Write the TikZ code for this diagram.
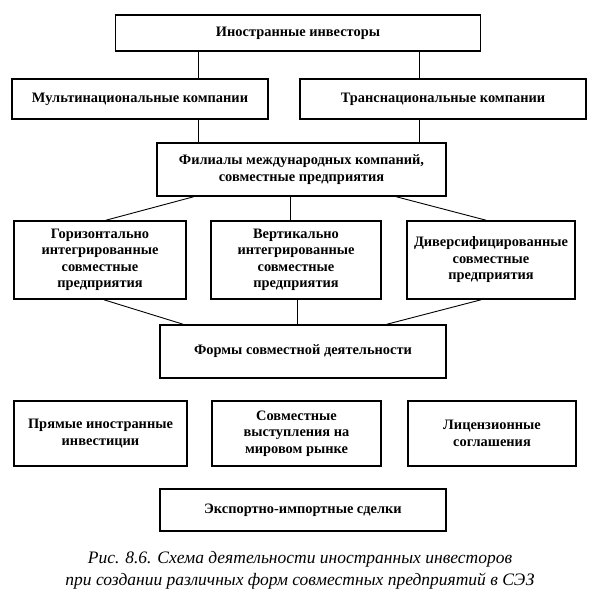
\documentclass[tikz,border=0pt]{standalone}
\usepackage{fontspec}
\setmainfont{Liberation Serif}
\tikzset{
  box/.style={draw, line width=1.6pt, align=center, inner sep=2pt,
    font=\fontsize{14.4}{16.5}\selectfont\bfseries},
  link/.style={line width=0.9pt}
}
\begin{document}
\begin{tikzpicture}[x=1pt,y=-1pt]
      \useasboundingbox (0,0) rectangle (598,600);
      \node[box, minimum width=365, minimum height=36] (inv) at (298,33) {Иностранные инвесторы};
      \node[box, minimum width=256, minimum height=40] (mult) at (140,99) {Мультинациональные компании};
      \node[box, minimum width=286, minimum height=40] (trans) at (443,99) {Транснациональные компании};
      \node[box, minimum width=289, minimum height=53] (fil) at (301.5,169.5) {Филиалы международных компаний,\\совместные предприятия};
      \node[box, minimum width=172, minimum height=78] (hor) at (100,260) {Горизонтально\\интегрированные\\совместные\\предприятия};
      \node[box, minimum width=170, minimum height=78] (ver) at (296,260) {Вертикально\\интегрированные\\совместные\\предприятия};
      \node[box, minimum width=168, minimum height=78] (div) at (491,260) {Диверсифицированные\\совместные\\предприятия};
      \node[box, minimum width=286, minimum height=53] (form) at (303,351.5) {Формы совместной деятельности};
      \node[box, minimum width=173, minimum height=65] (dir) at (100.5,433.5) {Прямые иностранные\\инвестиции};
      \node[box, minimum width=169, minimum height=65] (joint) at (296.5,433.5) {Совместные\\выступления на\\мировом рынке};
      \node[box, minimum width=168, minimum height=65] (lic) at (492,433.5) {Лицензионные\\соглашения};
      \node[box, minimum width=286, minimum height=42] (exp) at (303,510) {Экспортно-импортные сделки};
      \node[align=center, font=\fontsize{17.5}{22}\selectfont\itshape] (cap) at (300,570)
        {Рис. 8.6. Схема деятельности иностранных инвесторов\\при создании различных форм совместных предприятий в СЭЗ};
      \begin{scope}[link]
        \draw ([xshift=-100]inv.south) to ([xshift=-100]inv.south |- mult.north);
        \draw ([xshift=121]inv.south) to ([xshift=121]inv.south |- trans.north);
        \draw ([xshift=58]mult.south) to ([xshift=58]mult.south |- fil.north);
        \draw ([xshift=-24]trans.south) to ([xshift=-24]trans.south |- fil.north);
        \draw ([xshift=-108]fil.south) to ([xshift=6]hor.north);
        \draw ([xshift=-6]ver.north |- fil.south) to ([xshift=-6]ver.north);
        \draw ([xshift=95]fil.south) to ([xshift=-5]div.north);
        \draw ([xshift=4]hor.south) to ([xshift=-120]form.north);
        \draw ([xshift=1]ver.south) to ([xshift=1]ver.south |- form.north);
        \draw ([xshift=-10]div.south) to ([xshift=84]form.north);
      \end{scope}
    \end{tikzpicture}
\end{document}
